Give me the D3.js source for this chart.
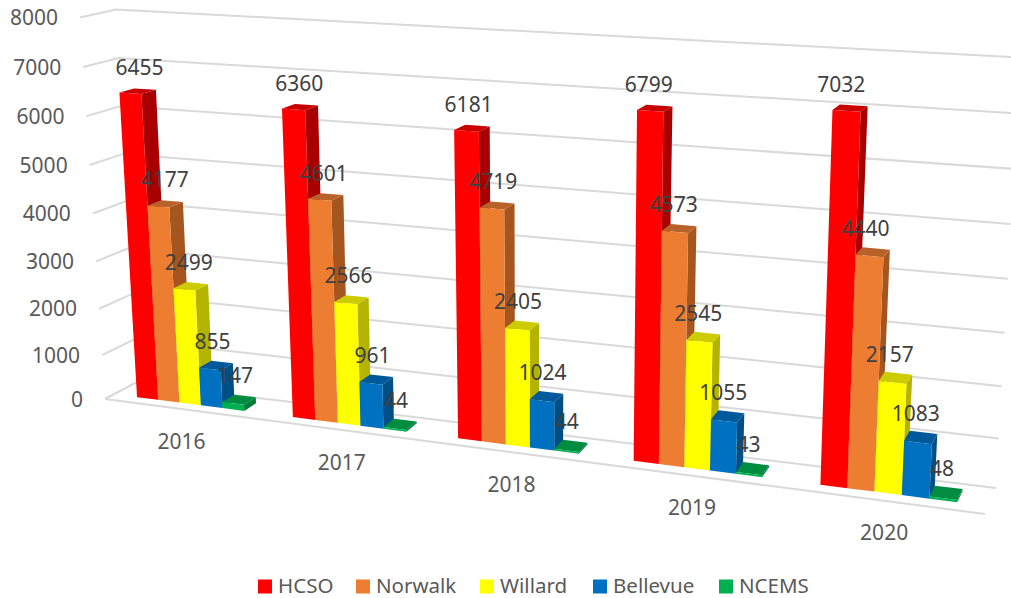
<!DOCTYPE html>
<html>
<head>
<meta charset="utf-8">
<script src="https://cdn.jsdelivr.net/npm/d3@7"></script>
<style>
    html, body { margin: 0; padding: 0; background: #fff; }
    svg { display: block; }
    text { font-family: "Noto Sans", sans-serif; }
</style>
</head>
<body>
<div id="chart"></div>
<script>
// data
const years = ["2016", "2017", "2018", "2019", "2020"];
const seriesNames = ["HCSO", "Norwalk", "Willard", "Bellevue", "NCEMS"];
const hcso = [6455, 6360, 6181, 6799, 7032];
const norwalk = [4177, 4601, 4719, 4573, 4440];
const willard = [2499, 2566, 2405, 2545, 2157];
const bellevue = [855, 961, 1024, 1055, 1083];
const ncems = [147, 44, 44, 43, 48];
const yTicks = [0, 1000, 2000, 3000, 4000, 5000, 6000, 7000, 8000];

const seriesValues = [hcso, norwalk, willard, bellevue, ncems];
const frontColors = ["#ff0000", "#ed7d31", "#ffff00", "#0070c0", "#00b050"];
const sideColors = ["#a80000", "#a5561f", "#b3b300", "#004e86", "#007b38"];
const topColors = ["#c80000", "#b8622a", "#cccc00", "#00599a", "#008c40"];
const legendX = [258, 356, 480, 593, 719];
const legendTextX = [278, 376, 500, 613, 739];

const width = 1011, height = 598;

const svg = d3.select("#chart").append("svg")
    .attr("width", width)
    .attr("height", height);

// the 3d box as it lands on the page: [value level][front/back][left/right]
const box = {
    bottom: { front: [[105, 399], [985, 514]], back: [[135, 383], [996, 488]] },
    top: { front: [[80, 17.5], [1007, 69.5]], back: [[116, 9.5], [1020, 57.5]] }
};

const x0 = d3.scaleBand().domain(years).range([0, 1]);
const x1 = d3.scaleBand().domain(seriesNames).range([0, x0.bandwidth()])
    .paddingInner(0).paddingOuter(1.1);
const y = d3.scalePow().exponent(1.04).domain([0, 8000]).range([0, 1]);

// perspective foreshortening along the width of the floor
const k = 1.165;
function foreshorten(b) {
    return b / (k - (k - 1) * b);
}

function mix(a, b, t) {
    return [a[0] + (b[0] - a[0]) * t, a[1] + (b[1] - a[1]) * t];
}

// b: 0..1 along the categories, z: 0 front .. 1 back, v: data value
function project(b, z, v) {
    let u = foreshorten(b);
    let t = y(v);
    let low = mix(
        mix(box.bottom.front[0], box.bottom.front[1], u),
        mix(box.bottom.back[0], box.bottom.back[1], u), z);
    let high = mix(
        mix(box.top.front[0], box.top.front[1], u),
        mix(box.top.back[0], box.top.back[1], u), z);
    return mix(low, high, t);
}

const line = d3.line();

// gridlines: along the back wall, then the short piece down the left wall
const grid = svg.append("g").attr("fill", "none").attr("stroke", "#d9d9d9").attr("stroke-width", 2);

yTicks.forEach(function (v) {
    grid.append("path").attr("d", line([project(0, 0, v), project(0, 1, v), project(1, 1, v)]));
});
grid.append("path").attr("d", line([project(0, 0, 0), project(1, 0, 0)]));

// y axis labels
svg.append("g").selectAll("text")
    .data(yTicks)
    .join("text")
    .attr("x", d => project(0, 0, d)[0] - 22)
    .attr("y", d => project(0, 0, d)[1] + 2)
    .attr("text-anchor", "end")
    .attr("dominant-baseline", "middle")
    .attr("font-size", 21)
    .attr("fill", "#595959")
    .text(d => d);

// bars
const zFront = 0.3, zBack = 0.73;
const bars = svg.append("g");
const labels = [];

years.forEach(function (year, i) {
    seriesNames.forEach(function (name, s) {
        let v = seriesValues[s][i];
        let l = x0(year) + x1(name);
        let r = l + x1.bandwidth();

        let side = [project(r, zFront, 0), project(r, zBack, 0), project(r, zBack, v), project(r, zFront, v)];
        let lid = [project(l, zFront, v), project(l, zBack, v), project(r, zBack, v), project(r, zFront, v)];
        let front = [project(l, zFront, 0), project(r, zFront, 0), project(r, zFront, v), project(l, zFront, v)];

        bars.append("path").attr("d", line(side) + "Z").attr("fill", sideColors[s]);
        bars.append("path").attr("d", line(lid) + "Z").attr("fill", topColors[s]);
        bars.append("path").attr("d", line(front) + "Z").attr("fill", frontColors[s]);

        // tall labels drift towards the middle of the chart
        let mid = (l + r) / 2;
        let drift = 16 * (0.5 - mid) * y(v);
        labels.push({ value: v, pos: project(mid, (zFront + zBack) / 2, v), drift: drift });
    });
});

// data labels
svg.append("g").selectAll("text")
    .data(labels)
    .join("text")
    .attr("x", d => d.pos[0] - 4 + d.drift)
    .attr("y", d => d.pos[1] - 22)
    .attr("text-anchor", "middle")
    .attr("dominant-baseline", "middle")
    .attr("font-size", 21)
    .attr("fill", "#404040")
    .text(d => d.value);

// category labels
svg.append("g").selectAll("text")
    .data(years)
    .join("text")
    .attr("x", d => project(x0(d) + x0.bandwidth() / 2, 0, 0)[0])
    .attr("y", d => project(x0(d) + x0.bandwidth() / 2, 0, 0)[1] + 34)
    .attr("text-anchor", "middle")
    .attr("dominant-baseline", "middle")
    .attr("font-size", 21)
    .attr("fill", "#595959")
    .text(d => d);

// legend
const legend = svg.append("g");
seriesNames.forEach(function (name, s) {
    legend.append("rect")
        .attr("x", legendX[s])
        .attr("y", 579.5)
        .attr("width", 14)
        .attr("height", 14)
        .attr("fill", frontColors[s]);
    legend.append("text")
        .attr("x", legendTextX[s])
        .attr("y", 587)
        .attr("dominant-baseline", "middle")
        .attr("font-size", 20.5)
        .attr("fill", "#595959")
        .text(name);
});
</script>
</body>
</html>
